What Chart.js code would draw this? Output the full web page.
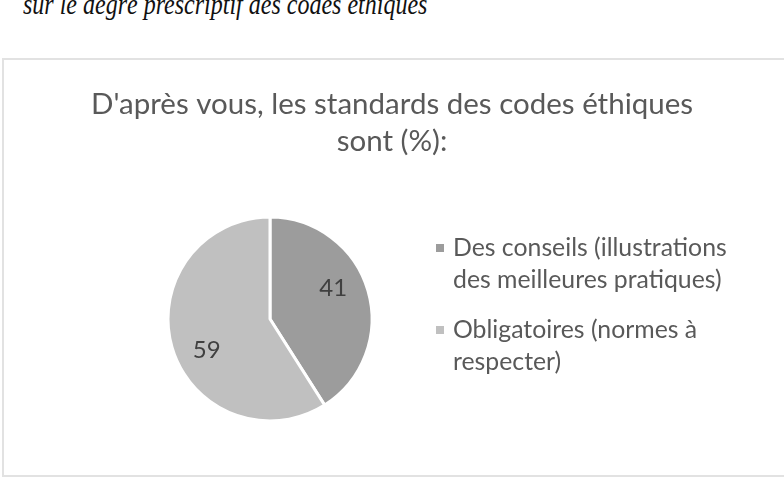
<!DOCTYPE html>
<html>
<head>
<meta charset="utf-8">
<script src="https://cdn.jsdelivr.net/npm/chart.js@4/dist/chart.umd.min.js"></script>
<style>
  html, body { margin: 0; padding: 0; background: #ffffff; width: 784px; height: 479px; overflow: hidden; }
  #header {
    position: absolute; left: 23px; top: -13px;
    font-family: "Liberation Serif", "DejaVu Serif", serif; font-style: italic;
    font-size: 30px; color: #111; white-space: nowrap;
    transform: scaleX(0.80); transform-origin: 0 0;
  }
  #frame {
    position: absolute; left: 2px; top: 58px; width: 800px; height: 415px;
    border: 2px solid #e2e2e2; box-sizing: content-box;
  }
  #c { position: absolute; left: 0; top: 0; }
</style>
</head>
<body>
<div id="header">sur le degré prescriptif des codes éthiques</div>
<div id="frame"></div>
<canvas id="c" width="784" height="479"></canvas>
<script>
const titleLines = ["D'après vous, les standards des codes éthiques", "sont (%):"];
const categories = ["Des conseils (illustrations des meilleures pratiques)", "Obligatoires (normes à respecter)"];
const values = [41, 59];
const sliceColors = ["#9c9c9c", "#c0c0c0"];

const FONT = "Lato, 'Open Sans', sans-serif";

const titlePlugin = {
  id: 'boxTitle',
  afterDraw(chart) {
    const ctx = chart.ctx;
    ctx.save();
    ctx.font = "29.5px " + FONT;
    ctx.fillStyle = "#595959";
    ctx.textAlign = "center";
    ctx.textBaseline = "alphabetic";
    titleLines.forEach((t, i) => ctx.fillText(t, 392, 114 + i * 37));
    ctx.restore();
  }
};

const dataLabelPlugin = {
  id: 'dataLabels',
  afterDatasetsDraw(chart) {
    const ctx = chart.ctx;
    const meta = chart.getDatasetMeta(0);
    ctx.save();
    ctx.font = "24px " + FONT;
    ctx.fillStyle = "#404040";
    ctx.textAlign = "center";
    ctx.textBaseline = "middle";
    meta.data.forEach((arc, i) => {
      const p = arc.getProps(['x', 'y', 'startAngle', 'endAngle', 'outerRadius'], true);
      const mid = (p.startAngle + p.endAngle) / 2 - 0.17;
      const r = p.outerRadius * 0.69;
      ctx.fillText(String(chart.data.datasets[0].data[i]), p.x + Math.cos(mid) * r, p.y + Math.sin(mid) * r);
    });
    ctx.restore();
  }
};

function wrap(ctx, text, maxW) {
  const words = text.split(' ');
  const lines = [];
  let cur = '';
  words.forEach(w => {
    const t = cur ? cur + ' ' + w : w;
    if (ctx.measureText(t).width > maxW && cur) { lines.push(cur); cur = w; }
    else cur = t;
  });
  if (cur) lines.push(cur);
  return lines;
}

const legendPlugin = {
  id: 'sideLegend',
  afterDraw(chart) {
    const ctx = chart.ctx;
    const ds = chart.data.datasets[0];
    ctx.save();
    ctx.font = "24.8px " + FONT;
    ctx.textBaseline = "alphabetic";
    ctx.textAlign = "left";
    const boxX = 436, textX = 453, lineH = 32, itemGap = 18;
    let y = 256;
    chart.data.labels.forEach((lab, i) => {
      const lines = wrap(ctx, lab, 300);
      ctx.fillStyle = ds.backgroundColor[i];
      ctx.fillRect(boxX, y - 12, 8, 8);
      ctx.fillStyle = "#595959";
      lines.forEach((ln, k) => ctx.fillText(ln, textX, y + k * lineH));
      y += lines.length * lineH + itemGap;
    });
    ctx.restore();
  }
};

new Chart(document.getElementById('c'), {
  type: 'pie',
  data: {
    labels: categories,
    datasets: [{
      data: values,
      backgroundColor: sliceColors,
      borderColor: "#ffffff",
      borderWidth: 3,
      radius: 102
    }]
  },
  options: {
    responsive: false,
    animation: false,
    events: [],
    layout: { padding: { left: 168, right: 412, top: 159, bottom: 0 } },
    plugins: {
      legend: { display: false },
      tooltip: { enabled: false },
      title: { display: false }
    }
  },
  plugins: [dataLabelPlugin, legendPlugin, titlePlugin]
});
</script>
</body>
</html>
